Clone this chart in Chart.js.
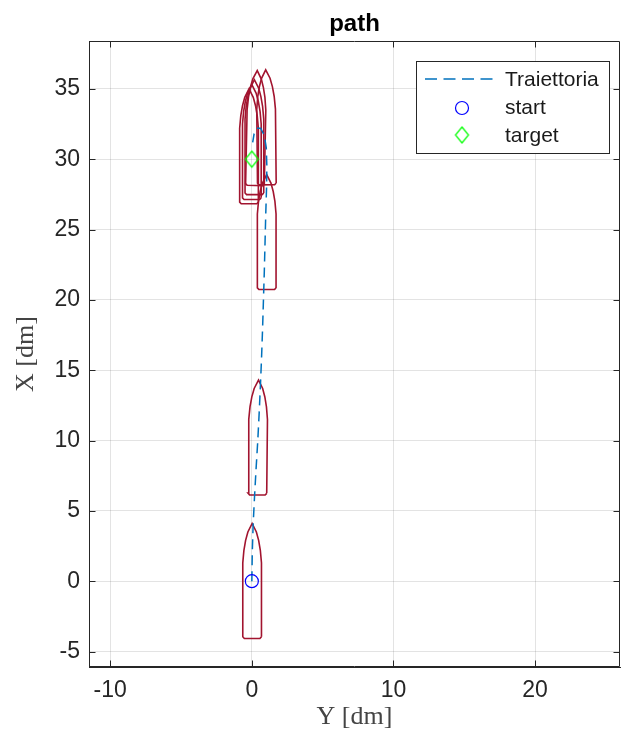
<!DOCTYPE html>
<html><head><meta charset="utf-8">
<script src="https://cdn.jsdelivr.net/npm/chart.js@4/dist/chart.umd.min.js"></script>
<style>html,body{margin:0;padding:0;background:#fff;}#wrap{width:621px;height:740px;}</style>
</head><body><div id="wrap"><canvas id="c" width="621" height="740"></canvas></div>
<script>
const titleText = 'path';
const xAxisLabel = 'Y [dm]';
const yAxisLabel = 'X [dm]';
const xTicks = [-10, 0, 10, 20];
const yTicks = [-5, 0, 5, 10, 15, 20, 25, 30, 35];
const legendLabels = ['Traiettoria', 'start', 'target'];

// trajectory: horizontal (Y) and vertical (X) in dm
const trajY = [0, 0.03, 0.09, 0.19, 0.30, 0.42, 0.52, 0.61, 0.69, 0.76, 0.82, 0.88, 0.93, 0.98, 1.04, 1.06, 1.02, 0.88, 0.62, 0.36, 0.16, 0.06];
const trajX = [0, 2, 4, 6, 8, 10, 12, 14, 16, 18, 20, 22, 24, 26, 28, 29.5, 30.8, 31.7, 32.2, 32.2, 31.8, 31.2];
const startY = [0], startX = [0];
const targetY = [0], targetX = [30];

// boat poses (centre Y, centre X, heading tilt in rad)
const boatY = [0.02, 0.43, 1.05, -0.20, 0.00, 0.18, 0.30, 1.02];
const boatX = [0.00, 10.2, 24.8, 30.90, 31.20, 31.55, 32.20, 32.25];
const boatHeading = [0, 0.01, 0, 0, 0, 0, 0.02, -0.01];
// hull outline template: along-ship and lateral offsets (dm)
const hullAlong = [-3.95, -4.07, -4.07, -3.95, 1.3, 2.2, 2.9, 3.5, 4.1, 3.5, 2.9, 2.2, 1.3, -3.95];
const hullSide  = [ 0.66,  0.55, -0.55, -0.66, -0.66, -0.58, -0.46, -0.30, 0, 0.30, 0.46, 0.58, 0.66, 0.66];

const BOAT_COLOR = '#A2142F';
const TRAJ_COLOR = '#0072BD';
const START_COLOR = '#0000FF';
const TARGET_COLOR = '#00FF00';
const AX = '#262626';

function makeDiamond(hw, hh, color) {
  const c = document.createElement('canvas');
  c.width = Math.ceil(hw * 2 + 4); c.height = Math.ceil(hh * 2 + 4);
  const g = c.getContext('2d');
  const cx = c.width / 2, cy = c.height / 2;
  g.strokeStyle = color; g.lineWidth = 1.2;
  g.beginPath(); g.moveTo(cx, cy - hh); g.lineTo(cx + hw, cy); g.lineTo(cx, cy + hh); g.lineTo(cx - hw, cy); g.closePath(); g.stroke();
  return c;
}
const diamondImg = makeDiamond(6.5, 8, TARGET_COLOR);

const datasets = [];
datasets.push({ label: 'start', data: startY.map((v, i) => ({x: v, y: startX[i]})), pointStyle: 'circle', pointRadius: 6.5, pointBorderColor: START_COLOR, pointBackgroundColor: 'rgba(0,0,0,0)', pointBorderWidth: 1.2, showLine: false });
datasets.push({ label: 'target', data: targetY.map((v, i) => ({x: v, y: targetX[i]})), pointStyle: diamondImg, pointRadius: 8, showLine: false });
datasets.push({ label: 'Traiettoria', data: trajY.map((v, i) => ({x: v, y: trajX[i]})), showLine: true, borderColor: TRAJ_COLOR, borderWidth: 1.5, borderDash: [10, 6], pointRadius: 0, fill: false, tension: 0 });
for (let b = 0; b < boatY.length; b++) {
  const th = boatHeading[b], c = Math.cos(th), s = Math.sin(th);
  const pts = hullAlong.map((a, k) => ({
    x: boatY[b] + a * s + hullSide[k] * c,
    y: boatX[b] + a * c - hullSide[k] * s
  }));
  datasets.push({ label: 'boat' + b, data: pts, showLine: true, borderColor: BOAT_COLOR, borderWidth: 1.6, pointRadius: 0, fill: false, tension: 0 });
}

const decor = {
  id: 'decor',
  beforeDatasetsDraw(chart) {
    const {ctx, chartArea: a, scales} = chart;
    ctx.save();
    ctx.strokeStyle = AX; ctx.lineWidth = 1;
    const L = Math.round(a.left) + 0.5, R = Math.round(a.right) - 0.5, T = Math.round(a.top) + 0.5, B = Math.round(a.bottom) - 0.5;
    ctx.beginPath();
    ctx.rect(L, T, R - L, B - T);
    const tl = 6;
    xTicks.forEach(v => {
      const p = Math.round(scales.x.getPixelForValue(v)) + 0.5;
      ctx.moveTo(p, B); ctx.lineTo(p, B - tl);
      ctx.moveTo(p, T); ctx.lineTo(p, T + tl);
    });
    yTicks.forEach(v => {
      const p = Math.round(scales.y.getPixelForValue(v)) + 0.5;
      ctx.moveTo(L, p); ctx.lineTo(L + tl, p);
      ctx.moveTo(R, p); ctx.lineTo(R - tl, p);
    });
    ctx.stroke();
    ctx.restore();
  },
  afterDatasetsDraw(chart) {
    const {ctx, chartArea: a} = chart;
    ctx.save();
    // title
    ctx.fillStyle = '#000';
    ctx.font = 'bold 24px "Liberation Sans", Arial, sans-serif';
    ctx.textAlign = 'center'; ctx.textBaseline = 'alphabetic';
    ctx.fillText(titleText, (a.left + a.right) / 2, 31);
    // legend
    const bx = 416.5, by = 61.5, bw = 193, bh = 92;
    ctx.fillStyle = '#fff'; ctx.fillRect(bx, by, bw, bh);
    ctx.strokeStyle = AX; ctx.lineWidth = 1; ctx.strokeRect(bx, by, bw, bh);
    ctx.save();
    ctx.strokeStyle = TRAJ_COLOR; ctx.lineWidth = 1.5; ctx.setLineDash([12, 6.5]);
    ctx.beginPath(); ctx.moveTo(425, 79); ctx.lineTo(495, 79); ctx.stroke();
    ctx.restore();
    ctx.strokeStyle = START_COLOR; ctx.lineWidth = 1.2;
    ctx.beginPath(); ctx.arc(462, 108, 6.5, 0, Math.PI * 2); ctx.stroke();
    ctx.drawImage(diamondImg, 462 - diamondImg.width / 2, 135 - diamondImg.height / 2);
    ctx.fillStyle = '#1a1a1a';
    ctx.font = '21px "Liberation Sans", Arial, sans-serif';
    ctx.textAlign = 'left'; ctx.textBaseline = 'middle';
    ctx.fillText(legendLabels[0], 505, 80);
    ctx.fillText(legendLabels[1], 505, 108);
    ctx.fillText(legendLabels[2], 505, 136);
    ctx.restore();
  }
};

const tickFont = {family: '"Liberation Sans", Arial, sans-serif', size: 23};
const labelFont = {family: '"Liberation Serif", "Times New Roman", serif', size: 26};

new Chart(document.getElementById('c'), {
  type: 'scatter',
  data: {datasets},
  options: {
    responsive: false, animation: false, devicePixelRatio: 1,
    layout: {autoPadding: false, padding: {top: 41, right: 1, left: 0, bottom: 0}},
    plugins: {legend: {display: false}, title: {display: false}, tooltip: {enabled: false}},
    scales: {
      x: {
        type: 'linear', position: 'bottom', min: -11.5, max: 26,
        afterBuildTicks: s => { s.ticks = xTicks.map(v => ({value: v})); },
        afterFit: s => { s.height = 73; s.paddingLeft = 0; s.paddingRight = 0; },
        ticks: {font: tickFont, color: AX, padding: 10},
        grid: {color: 'rgba(38,38,38,0.13)', drawTicks: false},
        border: {display: true, color: AX},
        title: {display: true, text: xAxisLabel, font: labelFont, color: '#444', padding: {top: 2, bottom: 7}}
      },
      y: {
        type: 'linear', position: 'left', min: -6.1, max: 38.4,
        afterBuildTicks: s => { s.ticks = yTicks.map(v => ({value: v})); },
        afterFit: s => { s.width = 89; s.paddingTop = 0; s.paddingBottom = 0; },
        ticks: {font: tickFont, color: AX, padding: 9},
        grid: {color: 'rgba(38,38,38,0.13)', drawTicks: false},
        border: {display: true, color: AX},
        title: {display: true, text: yAxisLabel, font: labelFont, color: '#444', padding: {top: 11, bottom: 0}}
      }
    }
  },
  plugins: [decor]
});
</script></body></html>
